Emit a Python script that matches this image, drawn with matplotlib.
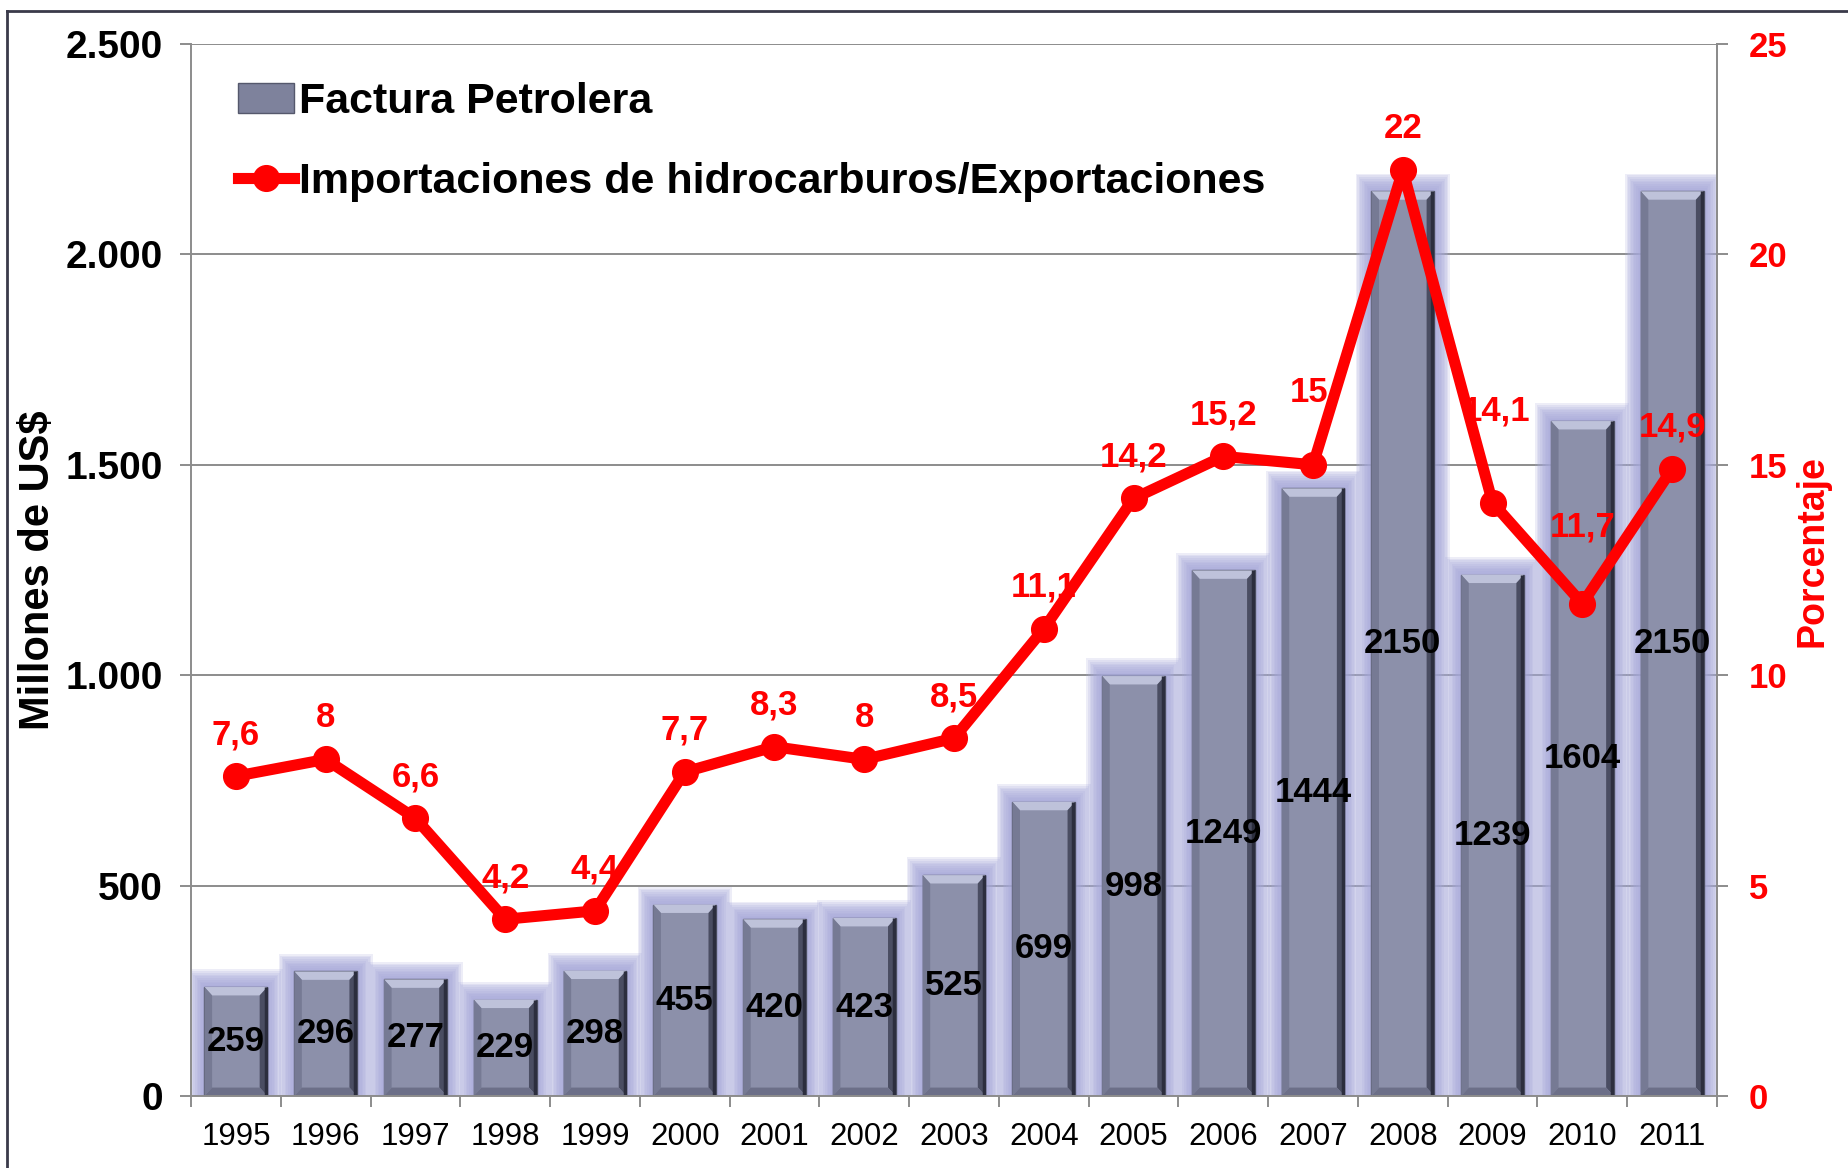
import matplotlib
matplotlib.use("Agg")
import matplotlib.pyplot as plt
from matplotlib.patches import Polygon, Patch
from matplotlib.lines import Line2D
from matplotlib.ticker import FuncFormatter, FixedLocator

plt.rcParams['font.family'] = ['Liberation Sans', 'DejaVu Sans']

years = ['1995', '1996', '1997', '1998', '1999', '2000', '2001', '2002', '2003',
         '2004', '2005', '2006', '2007', '2008', '2009', '2010', '2011']
factura = [259, 296, 277, 229, 298, 455, 420, 423, 525, 699, 998, 1249, 1444,
           2150, 1239, 1604, 2150]
porcentaje = [7.6, 8, 6.6, 4.2, 4.4, 7.7, 8.3, 8, 8.5, 11.1, 14.2, 15.2, 15,
              22, 14.1, 11.7, 14.9]
pct_labels = ['7,6', '8', '6,6', '4,2', '4,4', '7,7', '8,3', '8', '8,5', '11,1',
              '14,2', '15,2', '15', '22', '14,1', '11,7', '14,9']
left_ticks = [0, 500, 1000, 1500, 2000, 2500]
right_ticks = [0, 5, 10, 15, 20, 25]

# label offsets in points (dx, dy) for special cases
label_offsets = {12: (-3, 52), 14: (3, 66), 15: (0, 55)}
default_offset = (0, 30)

W, H = 1849, 1168
fig = plt.figure(figsize=(W / 100, H / 100), dpi=100)
ax = fig.add_axes([191 / W, 1 - 1096 / H, (1717 - 191) / W, (1096 - 44) / H])

x = list(range(len(years)))
bw = 0.70

GRID = '#8c8c8c'
ax.set_axisbelow(True)
ax.yaxis.grid(True, color=GRID, lw=1.4, zorder=0)

# halo glow (soft, layered)
halo_color = '#a7a9da'
n_layers = 10
for k in range(n_layers):
    frac = 1.0 - k / n_layers
    ex = 0.175 * frac
    ey = 42 * frac
    ax.bar(x, [v + ey for v in factura], width=bw + 2 * ex, color=halo_color,
           alpha=0.2, lw=0, zorder=1)

bars = ax.bar(x, factura, width=bw, color='#8c90aa', edgecolor='#55586c', lw=1.0,
              zorder=2)

# bevel facets
bx = 0.085
by = 20
for rect in bars:
    x0 = rect.get_x()
    x1 = x0 + rect.get_width()
    y0 = 0
    y1 = rect.get_height()
    facets = [
        ([(x0, y1), (x1, y1), (x1 - bx, y1 - by), (x0 + bx, y1 - by)], '#bec2da'),
        ([(x0, y0), (x0, y1), (x0 + bx, y1 - by), (x0 + bx, y0 + by)], '#767a94'),
        ([(x1, y0), (x1, y1), (x1 - bx, y1 - by), (x1 - bx, y0 + by)], '#4a4d62'),
        ([(x0, y0), (x1, y0), (x1 - bx, y0 + by), (x0 + bx, y0 + by)], '#6c6f88'),
    ]
    for pts, c in facets:
        ax.add_patch(Polygon(pts, closed=True, facecolor=c, edgecolor='none',
                             zorder=2.1))
    ax.plot([x1 - 0.02, x1 - 0.02], [y0, y1], color='#2c2e3e', lw=2.5,
            zorder=2.2, solid_capstyle='butt')

for xi, v in zip(x, factura):
    ax.text(xi, v / 2, str(v), ha='center', va='center', fontsize=25,
            fontweight='bold', color='black', zorder=3)

ax.set_xlim(-0.5, len(years) - 0.5)
ax.set_ylim(0, 2500)
ax.set_yticks(left_ticks)
ax.yaxis.set_major_formatter(FuncFormatter(lambda v, p: f'{v:,.0f}'.replace(',', '.')))
ax.set_xticks(x)
ax.set_xticklabels(years)
ax.xaxis.set_minor_locator(FixedLocator([i - 0.5 for i in range(len(years) + 1)]))
ax.tick_params(axis='x', which='major', length=0, pad=19, labelsize=22.5)
ax.tick_params(axis='x', which='minor', length=8, width=1.4, color=GRID)
ax.tick_params(axis='y', length=8, width=1.4, color=GRID, pad=12, labelsize=28)
for lab in ax.get_yticklabels():
    lab.set_fontweight('bold')
ax.spines['top'].set_visible(False)
for s in ['left', 'bottom', 'right']:
    ax.spines[s].set_color(GRID)
    ax.spines[s].set_linewidth(1.4)
ax.set_ylabel('Millones de US$', fontsize=30, fontweight='bold', color='black')
ax.yaxis.set_label_coords(-0.087, 0.5)

ax2 = ax.twinx()
ax2.set_ylim(0, 25)
ax2.set_yticks(right_ticks)
ax2.plot(x, porcentaje, color='#ff0000', lw=8, marker='o', markersize=18.5,
         zorder=5, solid_joinstyle='round')
for i, (xi, v, lab) in enumerate(zip(x, porcentaje, pct_labels)):
    dx, dy = label_offsets.get(i, default_offset)
    ax2.annotate(lab, (xi, v), xytext=(dx, dy), textcoords='offset points',
                 ha='center', va='center', fontsize=25, fontweight='bold',
                 color='#ff0000', zorder=6)
ax2.tick_params(axis='y', length=8, width=1.4, color=GRID, pad=15, labelsize=25,
                labelcolor='#ff0000')
for lab in ax2.get_yticklabels():
    lab.set_fontweight('bold')
for s in ['top', 'left', 'bottom']:
    ax2.spines[s].set_visible(False)
ax2.spines['right'].set_color(GRID)
ax2.spines['right'].set_linewidth(1.4)
ax2.set_ylabel('Porcentaje', fontsize=27, fontweight='bold', color='#ff0000')
ax2.yaxis.set_label_coords(1.0505, 0.518)

handles = [Patch(facecolor='#7e829c', edgecolor='#55586c', lw=1.0),
           Line2D([], [], color='#ff0000', lw=8, marker='o', markersize=18.5)]
labels = ['Factura Petrolera', 'Importaciones de hidrocarburos/Exportaciones']
leg = fig.legend(handles, labels, loc='upper left',
                 bbox_to_anchor=(238 / W, 1 - 82 / H), frameon=False,
                 prop={'family': 'Liberation Sans', 'weight': 'bold', 'size': 31},
                 handlelength=1.3, handletextpad=0.12, labelspacing=0.92,
                 borderpad=0, borderaxespad=0)

# figure border (left and top)
fig.add_artist(Line2D([7 / W, 7 / W], [0, 1 - 11 / H], color='#3a3a4a', lw=2))
fig.add_artist(Line2D([7 / W, 1], [1 - 11 / H, 1 - 11 / H], color='#3a3a4a', lw=2))

fig.savefig('out.png', dpi=100, facecolor='white')
